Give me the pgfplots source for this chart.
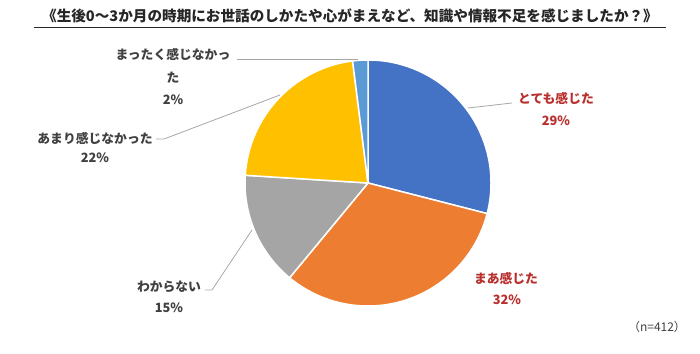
\documentclass[border=0pt]{standalone}
\usepackage{fontspec}
\setmainfont{Noto Sans CJK JP}
\usepackage{pgfplots}
\pgfplotsset{compat=1.18}
\definecolor{cblue}{HTML}{4472C4}
\definecolor{corange}{HTML}{ED7D31}
\definecolor{cgray}{HTML}{A5A5A5}
\definecolor{cyellow}{HTML}{FFC000}
\definecolor{clblue}{HTML}{5B9BD5}
\definecolor{labred}{HTML}{B8302E}
\definecolor{labgray}{HTML}{404040}
\definecolor{leader}{HTML}{A6A6A6}
% shares (percent)
\def\pA{29}\def\pB{32}\def\pC{15}\def\pD{22}\def\pE{2}
\pgfmathsetmacro\aA{90}
\pgfmathsetmacro\aB{90-3.6*\pA}
\pgfmathsetmacro\aC{\aB-3.6*\pB}
\pgfmathsetmacro\aD{\aC-3.6*\pC}
\pgfmathsetmacro\aE{\aD-3.6*\pD}
\pgfmathsetmacro\aF{\aE-3.6*\pE}
\def\cx{368}\def\cy{170}\def\rr{123}
\begin{document}
\begin{tikzpicture}
\begin{axis}[
  width=700pt, height=353pt, scale only axis,
  xmin=0, xmax=700, ymin=0, ymax=353,
  hide axis, clip=false,
]
\path (axis cs:0,0) rectangle (axis cs:700,353);
\addplot[fill=cblue, draw=white, line width=1.5pt, domain=\aB:\aA, samples=100, no markers]
  ({\cx+\rr*cos(x)},{\cy+\rr*sin(x)}) -- (axis cs:\cx,\cy) -- cycle;
\addplot[fill=corange, draw=white, line width=1.5pt, domain=\aC:\aB, samples=100, no markers]
  ({\cx+\rr*cos(x)},{\cy+\rr*sin(x)}) -- (axis cs:\cx,\cy) -- cycle;
\addplot[fill=cgray, draw=white, line width=1.5pt, domain=\aD:\aC, samples=60, no markers]
  ({\cx+\rr*cos(x)},{\cy+\rr*sin(x)}) -- (axis cs:\cx,\cy) -- cycle;
\addplot[fill=cyellow, draw=white, line width=1.5pt, domain=\aE:\aD, samples=80, no markers]
  ({\cx+\rr*cos(x)},{\cy+\rr*sin(x)}) -- (axis cs:\cx,\cy) -- cycle;
\addplot[fill=clblue, draw=white, line width=1.5pt, domain=\aF:\aE, samples=10, no markers]
  ({\cx+\rr*cos(x)},{\cy+\rr*sin(x)}) -- (axis cs:\cx,\cy) -- cycle;
% leader lines
\draw[leader, line width=0.8pt] (axis cs:468,245) -- (axis cs:512,250);
\draw[leader, line width=0.8pt] (axis cs:205,63) -- (axis cs:212,63) -- (axis cs:252,123);
\draw[leader, line width=0.8pt] (axis cs:156,214) -- (axis cs:164,214) -- (axis cs:280,258);
\draw[leader, line width=0.8pt] (axis cs:237,294) -- (axis cs:358,294);
% labels
\begin{scope}[every node/.style={font=\bfseries\fontsize{12.8}{15}\selectfont}]
\node[text=labred] at (axis cs:556,255) {とても感じた};
\node[text=labred] at (axis cs:556,232) {29\%};
\node[text=labred] at (axis cs:506,75) {まあ感じた};
\node[text=labred] at (axis cs:507,53) {32\%};
\node[text=labgray] at (axis cs:169,66) {わからない};
\node[text=labgray] at (axis cs:169,45) {15\%};
\node[text=labgray] at (axis cs:95,215) {あまり感じなかった};
\node[text=labgray] at (axis cs:95,195) {22\%};
\node[text=labgray] at (axis cs:173,298) {まったく感じなかっ};
\node[text=labgray] at (axis cs:173,275) {た};
\node[text=labgray] at (axis cs:173,253) {2\%};
\end{scope}
% title
\node[font=\bfseries\fontsize{14.6}{16}\selectfont, text=black!85] at (axis cs:350,337)
  {《生後0～3か月の時期にお世話のしかたや心がまえなど、知識や情報不足を感じましたか？》};
\draw[black!85, line width=1pt] (axis cs:34,325) -- (axis cs:666,325);
\node[font=\fontsize{12}{14}\selectfont, text=labgray] at (axis cs:657,26) {（n=412）};
\end{axis}
\end{tikzpicture}
\end{document}
